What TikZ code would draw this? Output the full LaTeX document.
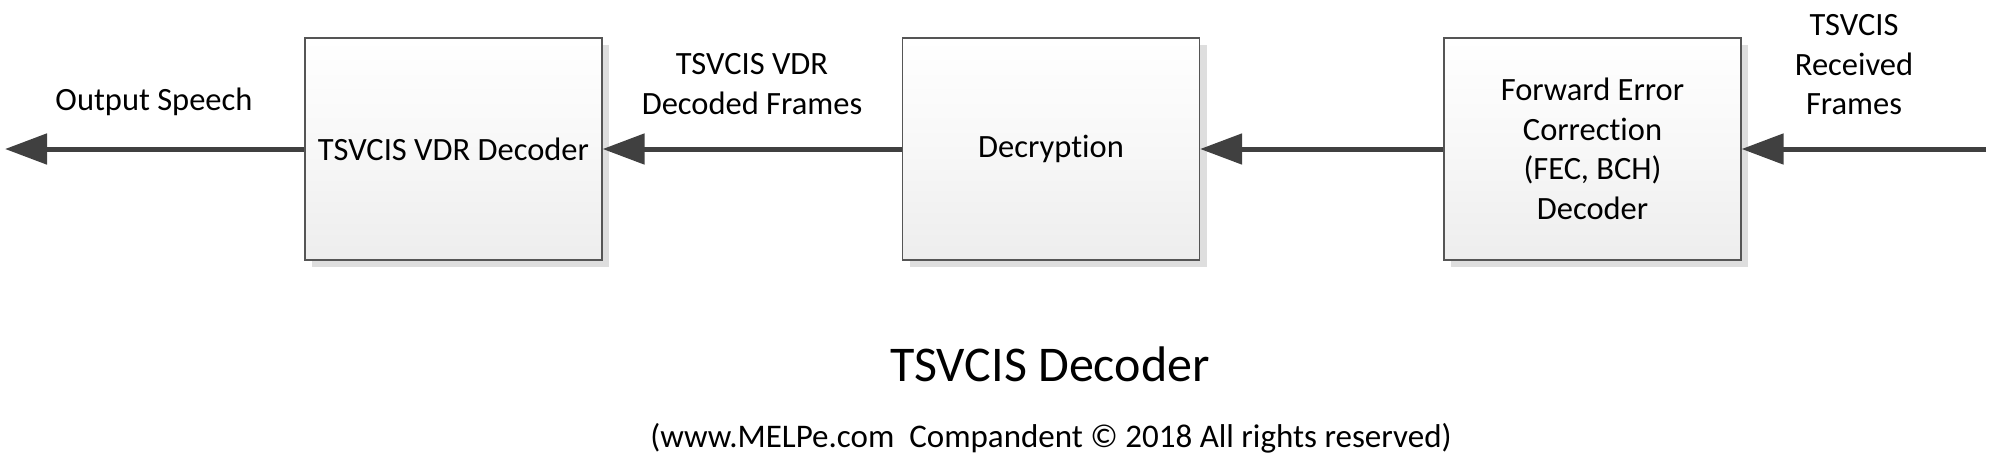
\documentclass[tikz,border=0pt]{standalone}
\usepackage{fontspec}
\setmainfont{Carlito}[Ligatures=NoCommon]
\usetikzlibrary{arrows.meta,shadows}
\definecolor{linec}{HTML}{404040}
\definecolor{boxborder}{HTML}{555555}
\tikzset{
  blockbox/.style={draw=boxborder, line width=1.2pt, minimum width=297pt, minimum height=222pt,
    top color=white, bottom color=black!7, middle color=black!3,
    drop shadow={shadow xshift=7pt, shadow yshift=-7pt, fill=black!13, opacity=1},
    align=center, font=\fontsize{32.5}{39.5}\selectfont, inner sep=0pt},
  lbl/.style={align=center, font=\fontsize{32.5}{39.5}\selectfont, inner sep=0pt},
  flow/.style={draw=linec, line width=5pt, -{Triangle[length=42pt,width=30pt]}},
}
\begin{document}
\begin{tikzpicture}[x=1pt,y=-1pt]
\useasboundingbox (0,0) rectangle (1991,459);
\node[blockbox] (vdr) at (453.5,149) {TSVCIS VDR Decoder};
\node[blockbox] (dec) at (1051,149) {Decryption};
\node[blockbox] (fec) at (1592.5,149) {Forward Error\\Correction\\(FEC, BCH)\\Decoder};
\coordinate (out) at (5,149);
\coordinate (in) at (1986,149);
\draw[flow] (vdr.west) -- (out);
\draw[flow] (dec.west) -- (vdr.east);
\draw[flow] (fec.west) -- (dec.east);
\draw[flow] (in) -- (fec.east);
\node[lbl] (lout) at (154,102) {Output Speech};
\node[lbl] (lvdr) at (752,84) {TSVCIS VDR\\Decoded Frames};
\node[lbl] (lin) at (1854,65) {TSVCIS\\Received\\Frames};
\node[lbl, font=\fontsize{50}{58}\selectfont] (title) at (1050,364) {TSVCIS Decoder};
\node[lbl, font=\fontsize{33}{38}\selectfont] (copy) at (1051,438) {(www.MELPe.com\ \ Compandent © 2018 All rights reserved)};
\end{tikzpicture}
\end{document}
